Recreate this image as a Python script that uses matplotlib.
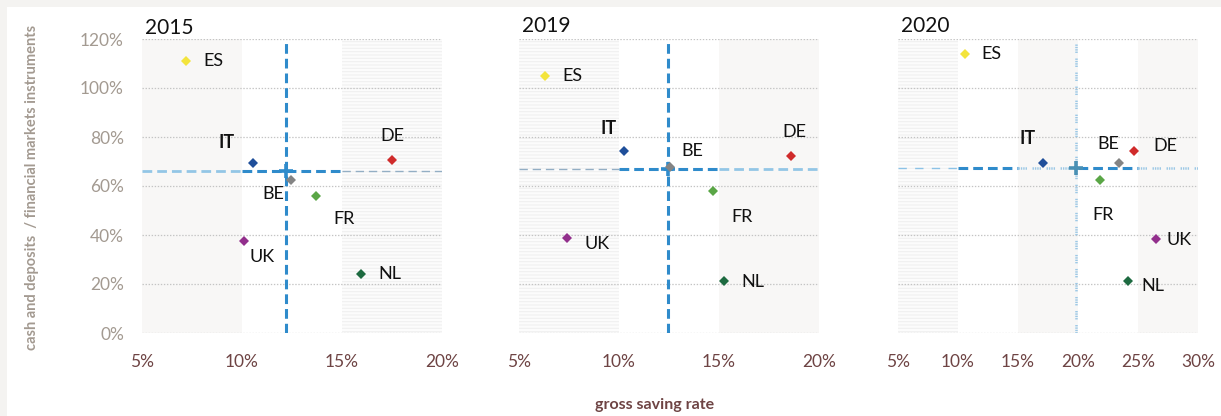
import matplotlib.pyplot as plt
from matplotlib.patches import Rectangle

plt.rcParams['font.family'] = ['Lato', 'DejaVu Sans']
plt.rcParams['hatch.linewidth'] = 0.8
plt.rcParams['lines.scale_dashes'] = False

countries = ['ES', 'IT', 'BE', 'FR', 'DE', 'UK', 'NL']
colors = ['#f3e43c', '#1f4f9a', '#848484', '#5aa646', '#d02b2b', '#922f8c', '#1d6a40']

# gross saving rate (%) and cash&deposits / financial market instruments (%)
saving_2015 = [7.2, 10.55, 12.45, 13.7, 17.5, 10.1, 15.95]
ratio_2015 = [111, 69.4, 62.4, 56.0, 70.6, 37.5, 24.2]
saving_2019 = [6.3, 10.25, 12.55, 14.7, 18.6, 7.4, 15.25]
ratio_2019 = [105, 74.3, 67.6, 58.1, 72.4, 38.9, 21.1]
saving_2020 = [10.6, 17.1, 23.4, 21.8, 24.7, 26.5, 24.2]
ratio_2020 = [113.9, 69.5, 69.3, 62.3, 74.3, 38.4, 21.2]

# averages (crosshair)
avg_x = [12.2, 12.45, 19.8]
avg_y = [66.2, 66.8, 67.3]

years = ['2015', '2019', '2020']
xmax = [20, 20, 30]
yticks = [0, 20, 40, 60, 80, 100, 120]

# label offsets in pixels (dx, dy) relative to each marker
offsets = [
    {'ES': (27, 0), 'IT': (-26, 20), 'BE': (-18, -14), 'FR': (28, -23),
     'DE': (0, 24), 'UK': (18, -16), 'NL': (29, 0)},
    {'ES': (27, 0), 'IT': (-15, 22), 'BE': (22, 16), 'FR': (29, -26),
     'DE': (3, 24), 'UK': (30, -6), 'NL': (29, -1)},
    {'ES': (26, 0), 'IT': (-16, 24), 'BE': (-10, 19), 'FR': (3, -35),
     'DE': (31, 5), 'UK': (23, -1), 'NL': (24, -5)},
]

# background band style for each 5-point slice of the x range
bands = [
    ['gray', 'white', 'striped'],
    ['striped', 'white', 'gray'],
    ['striped', 'white', 'gray', 'white', 'gray'],
]
# style of the horizontal average line across each band
hline_styles = [
    ['light', 'dark', 'thin'],
    ['thin', 'dark', 'light'],
    ['thinlight', 'dark', 'dotted', 'dark', 'dotted'],
]
vline_style = ['dark', 'dark', 'dotted']

line_kw = {
    'dark': dict(color='#2f8bcb', lw=2.2, dashes=(7, 3.6)),
    'light': dict(color='#93c6e6', lw=2.0, dashes=(7, 3.6)),
    'thin': dict(color='#93aec4', lw=1.0, dashes=(6, 3.5)),
    'thinlight': dict(color='#8cc2e6', lw=1.0, dashes=(6, 6)),
    'dotted': dict(color='#9cc8e6', lw=1.8, dashes=(1, 0.7, 1, 0.7, 1, 0.7, 1, 4)),
}

all_x = [saving_2015, saving_2019, saving_2020]
all_y = [ratio_2015, ratio_2019, ratio_2020]

fig = plt.figure(figsize=(12.21, 4.16), dpi=100, facecolor='#f4f3f1')
fig.patches.append(Rectangle((7 / 1221, 0), 1, 1 - 7 / 416, transform=fig.transFigure,
                             facecolor='white', edgecolor='none', zorder=-5))

lefts = [142, 519, 898]
for i in range(3):
    ax = fig.add_axes([lefts[i] / 1221, 83 / 416, 300 / 1221, 294 / 416])
    ax.set_facecolor('none')
    ax.set_xlim(5, xmax[i])
    ax.set_ylim(0, 120)

    for k, b in enumerate(bands[i]):
        x0 = 5 + 5 * k
        if b == 'gray':
            ax.add_patch(Rectangle((x0, 0), 5, 120, facecolor='#f8f7f6', edgecolor='none', zorder=0))
        elif b == 'striped':
            ax.add_patch(Rectangle((x0, 0), 5, 120, facecolor='#fcfcfc', edgecolor='#f0f0f0',
                                   hatch='-----', lw=0, zorder=0))

    for yv in yticks:
        ax.axhline(yv, color='#c4c4c4', lw=0.9, ls=(0, (1, 1.2)), zorder=1)

    for k, st in enumerate(hline_styles[i]):
        x0 = 5 + 5 * k
        ax.plot([x0, x0 + 5], [avg_y[i], avg_y[i]], zorder=2, solid_capstyle='butt', **line_kw[st])
    ax.plot([avg_x[i], avg_x[i]], [0, 120], zorder=2, **line_kw[vline_style[i]])
    ax.plot(avg_x[i], avg_y[i], marker='+', ms=10, mew=2.6,
            color='#4a90b4' if i == 2 else '#2f8bcb', zorder=3)

    for c, col, xv, yv in zip(countries, colors, all_x[i], all_y[i]):
        ax.plot(xv, yv, marker='D', ms=5.6, mew=0, color=col, ls='none', zorder=4)
        dx, dy = offsets[i][c]
        ax.annotate(c, (xv, yv), xytext=(dx, dy), textcoords='offset pixels',
                    ha='center', va='center', fontsize=13, color='#111111',
                    fontweight='bold' if c == 'IT' else 'normal', zorder=5)

    ax.set_xticks(range(5, xmax[i] + 1, 5))
    ax.set_xticklabels([f'{v}%' for v in range(5, xmax[i] + 1, 5)])
    ax.set_yticks(yticks)
    if i == 0:
        ax.set_yticklabels([f'{v}%' for v in yticks])
    else:
        ax.set_yticklabels([])
    ax.tick_params(axis='x', length=0, pad=15, labelsize=12.5, labelcolor='#6e4444')
    ax.tick_params(axis='y', length=0, pad=13, labelsize=12.5, labelcolor='#a39a91')
    for s in ax.spines.values():
        s.set_visible(False)
    ax.text(0.01, 1.017 if i == 0 else 1.024, years[i], transform=ax.transAxes,
            fontsize=15, color='#111111', ha='left', va='baseline')

fig.text(32 / 1221, 1 - 187 / 416, 'cash and deposits  / financial markets instruments',
         rotation=90, ha='center', va='center', fontsize=10.5, fontweight='bold',
         color='#a39a91')
fig.text(655 / 1221, 1 - 405 / 416, 'gross saving rate', ha='center', va='center',
         fontsize=11.5, fontweight='bold', color='#6e4444')

fig.savefig('out.png', dpi=100, facecolor=fig.get_facecolor())
